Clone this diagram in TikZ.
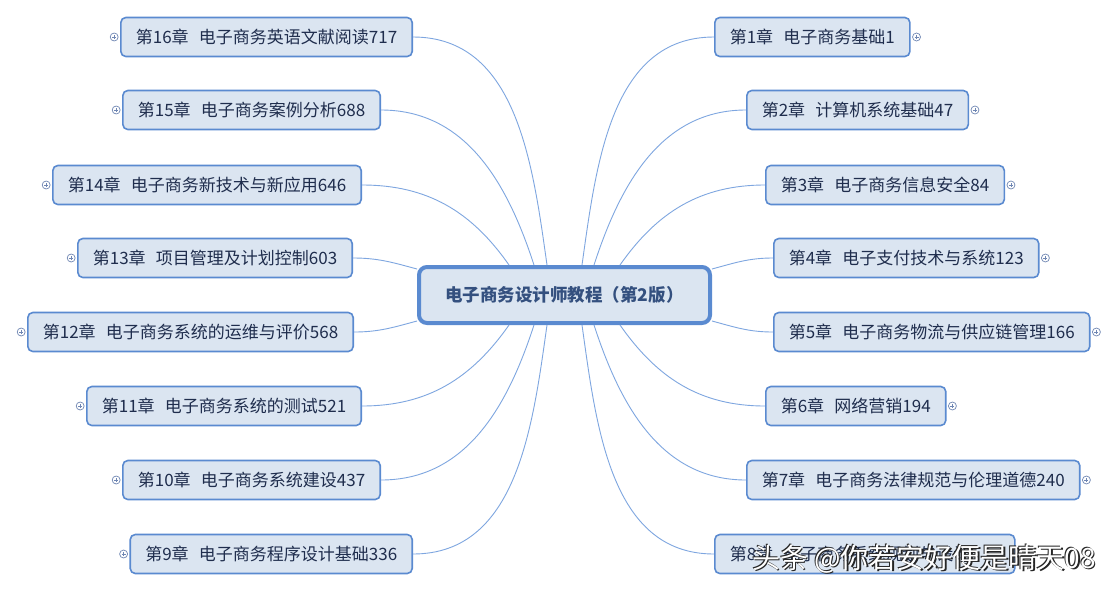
\documentclass[tikz,border=0pt]{standalone}
\usepackage{fontspec}
\setmainfont{Noto Sans CJK SC}
\usetikzlibrary{positioning}

\definecolor{boxfill}{HTML}{DBE5F1}
\definecolor{boxline}{HTML}{5A8AD0}
\definecolor{boxtext}{HTML}{1F2D4D}
\definecolor{hubtext}{HTML}{34507F}
\definecolor{wirecol}{HTML}{7EA6E0}
\definecolor{plusgray}{HTML}{6F86B3}

\newcommand{\chap}[2]{第#1章\hspace{.6em}#2}

\tikzset{
  chapter/.style={draw=boxline, line width=1.6pt, fill=boxfill, rounded corners=5pt,
    minimum height=39pt, inner xsep=15pt, text=boxtext, font=\fontsize{17}{19}\selectfont},
  hubbox/.style={draw=boxline, line width=4pt, fill=boxfill, rounded corners=8pt,
    minimum width=291pt, minimum height=56pt, text=hubtext, font=\fontsize{17.5}{20}\selectfont\bfseries},
  expand/.style={draw=plusgray, circle, line width=0.7pt, minimum size=8pt, inner sep=0pt,
    path picture={
      \draw[plusgray, line width=0.7pt] ([xshift=2pt]path picture bounding box.west) -- ([xshift=-2pt]path picture bounding box.east);
      \draw[plusgray, line width=0.7pt] ([yshift=-2pt]path picture bounding box.north) -- ([yshift=2pt]path picture bounding box.south);}},
  wire/.style={draw=wirecol, line width=0.9pt},
  wmshade/.style={text=black!85, font=\fontsize{28}{30}\selectfont},
  wmtext/.style={text=white, font=\fontsize{28}{30}\selectfont},
}

\begin{document}
\begin{tikzpicture}[x=1pt, y=-1pt]
  \useasboundingbox[fill=white] (0,0) rectangle (1118,592);

  % Nodes
  \node[hubbox] (hub) at (564.5,295) {电子商务设计师教程（第2版）};

  \node[chapter, anchor=west] (c1) at (714,37)  {\chap{1}{电子商务基础1}};
  \node[chapter, anchor=west] (c2) at (746,110) {\chap{2}{计算机系统基础47}};
  \node[chapter, anchor=west] (c3) at (765,185) {\chap{3}{电子商务信息安全84}};
  \node[chapter, anchor=west] (c4) at (773,258) {\chap{4}{电子支付技术与系统123}};
  \node[chapter, anchor=west] (c5) at (773,332) {\chap{5}{电子商务物流与供应链管理166}};
  \node[chapter, anchor=west] (c6) at (765,406) {\chap{6}{网络营销194}};
  \node[chapter, anchor=west] (c7) at (746,480) {\chap{7}{电子商务法律规范与伦理道德240}};
  \node[chapter, anchor=west, align=left, text width=270pt] (c8) at (714,554) {\chap{8}{电子商务系统规划与设计}};

  \node[chapter, anchor=east] (c16) at (413,37)  {\chap{16}{电子商务英语文献阅读717}};
  \node[chapter, anchor=east] (c15) at (381,110) {\chap{15}{电子商务案例分析688}};
  \node[chapter, anchor=east] (c14) at (362,185) {\chap{14}{电子商务新技术与新应用646}};
  \node[chapter, anchor=east] (c13) at (353,258) {\chap{13}{项目管理及计划控制603}};
  \node[chapter, anchor=east] (c12) at (354,332) {\chap{12}{电子商务系统的运维与评价568}};
  \node[chapter, anchor=east] (c11) at (362,406) {\chap{11}{电子商务系统的测试521}};
  \node[chapter, anchor=east] (c10) at (381,480) {\chap{10}{电子商务系统建设437}};
  \node[chapter, anchor=east] (c9)  at (413,554) {\chap{9}{电子商务程序设计基础336}};

  % Expand markers
  \node[expand, right=1.5pt of c1] (x1) {};
  \node[expand, right=1.5pt of c2] (x2) {};
  \node[expand, right=1.5pt of c3] (x3) {};
  \node[expand, right=1.5pt of c4] (x4) {};
  \node[expand, right=1.5pt of c5] (x5) {};
  \node[expand, right=1.5pt of c6] (x6) {};
  \node[expand, right=1.5pt of c7] (x7) {};
  \node[expand, left=1.5pt of c16] (x16) {};
  \node[expand, left=1.5pt of c15] (x15) {};
  \node[expand, left=1.5pt of c14] (x14) {};
  \node[expand, left=1.5pt of c13] (x13) {};
  \node[expand, left=1.5pt of c12] (x12) {};
  \node[expand, left=1.5pt of c11] (x11) {};
  \node[expand, left=1.5pt of c10] (x10) {};
  \node[expand, left=1.5pt of c9]  (x9)  {};

  % Edges
  \draw[wire] ([xshift=17.5pt]hub.north) to[out=82,in=180] (c1.west);
  \draw[wire] ([xshift=29.5pt]hub.north) to[out=72,in=180] (c2.west);
  \draw[wire] ([xshift=55.5pt]hub.north) to[out=55,in=180] (c3.west);
  \draw[wire] (hub.10) to[out=15,in=180] (c4.west);
  \draw[wire] (hub.350) to[out=-15,in=180] (c5.west);
  \draw[wire] ([xshift=55.5pt]hub.south) to[out=-55,in=180] (c6.west);
  \draw[wire] ([xshift=29.5pt]hub.south) to[out=-72,in=180] (c7.west);
  \draw[wire] ([xshift=17.5pt]hub.south) to[out=-82,in=180] (c8.west);

  \draw[wire] ([xshift=-17.5pt]hub.north) to[out=98,in=0] (c16.east);
  \draw[wire] ([xshift=-30.5pt]hub.north) to[out=108,in=0] (c15.east);
  \draw[wire] ([xshift=-55.5pt]hub.north) to[out=125,in=0] (c14.east);
  \draw[wire] (hub.170) to[out=165,in=0] (c13.east);
  \draw[wire] (hub.190) to[out=195,in=0] (c12.east);
  \draw[wire] ([xshift=-55.5pt]hub.south) to[out=235,in=0] (c11.east);
  \draw[wire] ([xshift=-30.5pt]hub.south) to[out=252,in=0] (c10.east);
  \draw[wire] ([xshift=-17.5pt]hub.south) to[out=262,in=0] (c9.east);

  % Watermark
  \node[wmshade] at (925.2,560.2) {头条 @你若安好便是晴天08};
  \node[wmshade] at (923,558) {头条 @你若安好便是晴天08};
  \node[wmtext] (wm) at (924,559) {头条 @你若安好便是晴天08};
\end{tikzpicture}
\end{document}
